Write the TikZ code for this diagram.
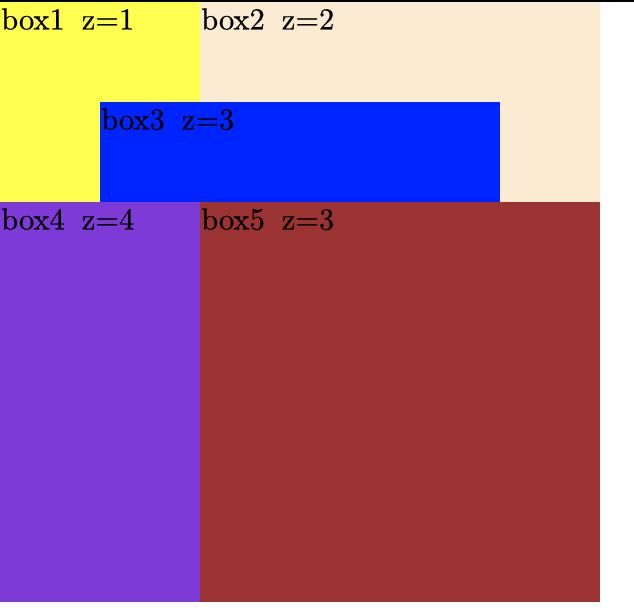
\documentclass[tikz,border=0pt]{standalone}
\usepackage{fontspec}
\newfontfamily\lmten{lmroman10-regular.otf}[FakeBold=0.6]
\definecolor{cyellow}{HTML}{FFFF4F}
\definecolor{cbisque}{HTML}{FBEBD3}
\definecolor{cblue}{HTML}{0024FF}
\definecolor{cpurple}{HTML}{7D3AD6}
\definecolor{cbrown}{HTML}{9A3331}
\newcommand{\gap}{\hspace{17pt}}
\begin{document}
\begin{tikzpicture}[x=1pt,y=-1pt,
  boxfill/.style={fill=#1, draw=none},
  boxlabel/.style={anchor=base west, inner sep=0pt, font=\lmten\fontsize{30.5}{36}\selectfont}]
\useasboundingbox (0,0) rectangle (634,612);
\fill[black] (0,0) rectangle (634,1.7);
% z=1
\path[boxfill=cyellow] (0,2) rectangle (200,202);
\node[boxlabel] (t1) at (1,29.5) {box1\gap z=1};
% z=2
\path[boxfill=cbisque] (200,2) rectangle (600,202);
\node[boxlabel] (t2) at (201,29.5) {box2\gap z=2};
% z=3
\path[boxfill=cblue] (100,102) rectangle (500,202);
\node[boxlabel] (t3) at (101,129.5) {box3\gap z=3};
\path[boxfill=cbrown] (200,202) rectangle (600,602);
\node[boxlabel] (t5) at (201,229.5) {box5\gap z=3};
% z=4
\path[boxfill=cpurple] (0,202) rectangle (200,602);
\node[boxlabel] (t4) at (1,229.5) {box4\gap z=4};
\end{tikzpicture}
\end{document}
